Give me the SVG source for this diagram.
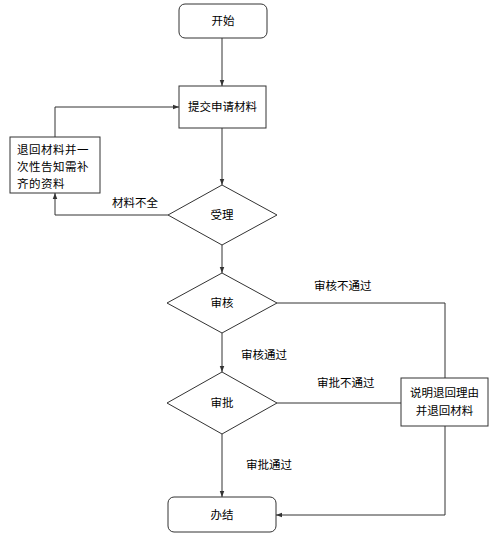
<svg xmlns="http://www.w3.org/2000/svg" width="500" height="537" viewBox="0 0 500 537">
<style>
.n{fill:#fff;stroke:#333;stroke-width:1}
.t{font-family:"Liberation Sans","Noto Sans CJK SC",sans-serif;font-size:11.5px;fill:#000;text-anchor:middle;dominant-baseline:central}
.l{font-family:"Liberation Sans","Noto Sans CJK SC",sans-serif;font-size:11.5px;fill:#000;dominant-baseline:central}
.w{letter-spacing:0.5px}
.c{fill:none;stroke:#333;stroke-width:1}
</style>
<defs>
<marker id="a" viewBox="0 0 8 8" refX="8" refY="4" markerWidth="6" markerHeight="6" orient="auto" markerUnits="userSpaceOnUse">
<path d="M0,1 L8,4 L0,7 Z" fill="#333"/>
</marker>
</defs>
<rect width="500" height="537" fill="#fff"/>
<g id="connectors">
<path class="c" d="M222,38 V86" marker-end="url(#a)"/>
<path class="c" d="M222,128 V185" marker-end="url(#a)"/>
<path class="c" d="M168,215 H55 V193" marker-end="url(#a)"/>
<path class="c" d="M55,137 V107 H179" marker-end="url(#a)"/>
<path class="c" d="M222,245 V273" marker-end="url(#a)"/>
<path class="c" d="M277,303 H445 V378"/>
<path class="c" d="M222,333 V372" marker-end="url(#a)"/>
<path class="c" d="M277,403 H401"/>
<path class="c" d="M222,434 V497" marker-end="url(#a)"/>
<path class="c" d="M445,426 V515 H276" marker-end="url(#a)"/>
<text class="l" x="112" y="203">材料不全</text>
<text class="l" x="314" y="286">审核不通过</text>
<text class="l" x="241" y="355">审核通过</text>
<text class="l" x="317" y="383">审批不通过</text>
<text class="l" x="246" y="465">审批通过</text>
</g>
<g id="start">
<rect class="n" x="179" y="4" width="88" height="34" rx="6"/>
<text class="t" x="223" y="21">开始</text>
</g>
<g id="submit">
<rect class="n" x="179" y="86" width="87" height="42"/>
<text class="t" x="222.5" y="107">提交申请材料</text>
</g>
<g id="returnBox">
<rect class="n" x="10" y="137" width="90" height="56"/>
<text class="l w" x="17" y="150">退回材料并一</text>
<text class="l w" x="17" y="167">次性告知需补</text>
<text class="l w" x="17" y="184">齐的资料</text>
</g>
<g id="accept">
<polygon class="n" points="222,185 277,215 222,245 168,215"/>
<text class="t" x="222" y="215">受理</text>
</g>
<g id="review">
<polygon class="n" points="222,273 277,303 222,333 167,303"/>
<text class="t" x="222" y="303">审核</text>
</g>
<g id="approve">
<polygon class="n" points="222,372 277,403 222,434 167,403"/>
<text class="t" x="222" y="403">审批</text>
</g>
<g id="explain">
<rect class="n" x="401" y="378" width="87" height="48"/>
<text class="t" x="444.5" y="393">说明退回理由</text>
<text class="t" x="444.5" y="411">并退回材料</text>
</g>
<g id="done">
<rect class="n" x="168" y="497" width="108" height="35" rx="6"/>
<text class="t" x="222" y="515">办结</text>
</g>
</svg>
